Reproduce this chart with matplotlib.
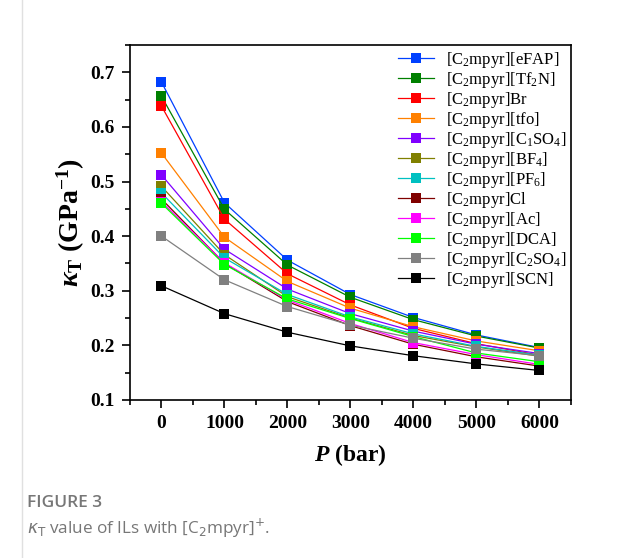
import numpy as np
from matplotlib import pyplot as plt
from matplotlib.lines import Line2D
from matplotlib.ticker import MultipleLocator

plt.rc("font", family="Liberation Serif", size=14)
plt.rc("mathtext", fontset="custom", rm="Liberation Serif",
       it="Liberation Serif:italic:bold", bf="Liberation Serif:bold")

# pressure (bar)
pressure = [0, 1000, 2000, 3000, 4000, 5000, 6000]

# isothermal compressibility kappa_T (GPa^-1)
k_eFAP = [0.682, 0.461, 0.356, 0.293, 0.251, 0.219, 0.196]
k_Tf2N = [0.656, 0.449, 0.347, 0.288, 0.247, 0.217, 0.195]
k_Br = [0.638, 0.431, 0.331, 0.274, 0.231, 0.203, 0.182]
k_tfo = [0.552, 0.398, 0.317, 0.268, 0.234, 0.208, 0.190]
k_C1SO4 = [0.512, 0.376, 0.303, 0.258, 0.226, 0.202, 0.185]
k_BF4 = [0.491, 0.366, 0.289, 0.250, 0.218, 0.197, 0.180]
k_PF6 = [0.479, 0.360, 0.293, 0.252, 0.221, 0.198, 0.182]
k_Cl = [0.468, 0.350, 0.280, 0.236, 0.202, 0.179, 0.162]
k_Ac = [0.463, 0.351, 0.283, 0.240, 0.205, 0.183, 0.165]
k_DCA = [0.460, 0.348, 0.285, 0.249, 0.216, 0.186, 0.170]
k_C2SO4 = [0.400, 0.320, 0.271, 0.237, 0.213, 0.193, 0.181]
k_SCN = [0.309, 0.258, 0.224, 0.199, 0.181, 0.166, 0.154]

labels = [
    r"[C$_2$mpyr][eFAP]",
    r"[C$_2$mpyr][Tf$_2$N]",
    r"[C$_2$mpyr]Br",
    r"[C$_2$mpyr][tfo]",
    r"[C$_2$mpyr][C$_1$SO$_4$]",
    r"[C$_2$mpyr][BF$_4$]",
    r"[C$_2$mpyr][PF$_6$]",
    r"[C$_2$mpyr]Cl",
    r"[C$_2$mpyr][Ac]",
    r"[C$_2$mpyr][DCA]",
    r"[C$_2$mpyr][C$_2$SO$_4$]",
    r"[C$_2$mpyr][SCN]",
]
series = [k_eFAP, k_Tf2N, k_Br, k_tfo, k_C1SO4, k_BF4, k_PF6,
          k_Cl, k_Ac, k_DCA, k_C2SO4, k_SCN]
colors = ["#0040ff", "#008000", "#ff0000", "#ff8000", "#8000ff", "#808000",
          "#00c0c0", "#800000", "#ff00ff", "#00ff00", "#808080", "#000000"]

fig = plt.figure(figsize=(6.17, 5.58), dpi=100)
ax = fig.add_axes([0.2107, 0.2832, 0.7147, 0.6362])

for k, c, lab in zip(series, colors, labels):
    ax.plot(pressure, k, color=c, lw=0.9, marker="s", markersize=7,
            markeredgewidth=0, label=lab)

ax.set_xlim(-500, 6500)
ax.set_ylim(0.1, 0.75)
ax.xaxis.set_major_locator(MultipleLocator(1000))
ax.xaxis.set_minor_locator(MultipleLocator(500))
ax.yaxis.set_major_locator(MultipleLocator(0.1))
ax.yaxis.set_minor_locator(MultipleLocator(0.05))
ax.tick_params(which="major", direction="out", length=6, width=1.2, pad=5)
ax.tick_params(which="minor", direction="out", length=3.5, width=1.2)
for lbl in ax.get_xticklabels() + ax.get_yticklabels():
    lbl.set_fontweight("bold")
for sp in ax.spines.values():
    sp.set_linewidth(1.2)

ax.set_xlabel(r"$P$ (bar)", fontsize=17, fontweight="bold", labelpad=7)
ax.set_ylabel(r"$\kappa_\mathbf{T}$ (GPa$^\mathbf{-1}$)", fontsize=20,
              fontweight="bold", labelpad=2)

ax.legend(loc="upper right", frameon=False, fontsize=12, handlelength=2.15,
          handletextpad=0.7, labelspacing=0.0, borderaxespad=0.1,
          borderpad=0.2)

# caption below the chart
fig.add_artist(Line2D([22 / 617, 22 / 617], [0, 1], color="#e0e0e0", lw=1))
fig.text(27 / 617, 1 - 503 / 558, "FIGURE 3", family="Open Sans", fontsize=12.5,
         fontweight="semibold", color="#777777", va="center")
fig.text(27 / 617, 1 - 528 / 558,
         r"$\kappa_{\rm T}$ value of ILs with [C$_2$mpyr]$^{+}$.",
         family="Open Sans", math_fontfamily="dejavusans", fontsize=12.3,
         color="#777777", va="center")

fig.savefig("out.png", dpi=100)
plt.close()
